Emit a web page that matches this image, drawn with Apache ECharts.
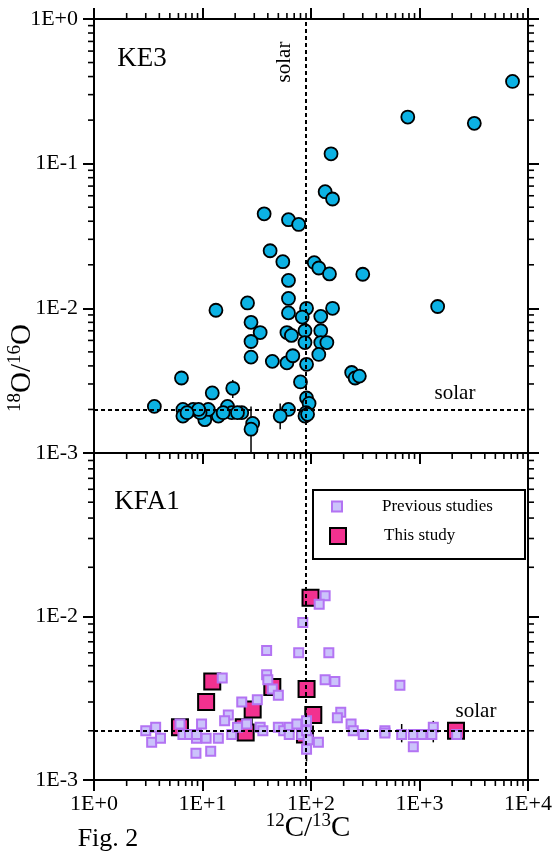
<!DOCTYPE html>
<html>
<head>
<meta charset="utf-8">
<script src="https://cdn.jsdelivr.net/npm/echarts@6/dist/echarts.min.js"></script>
<style>
  html, body { margin: 0; padding: 0; background: #fff; }
  #echart { width: 558px; height: 852px; }
</style>
</head>
<body>
<div id="echart"></div>
<script>
// ====================== data ======================
var solarC = 89;      // 12C/13C solar
var solarO = 0.002;   // 18O/16O solar

// KE3: [12C/13C, 18O/16O]
var ke3Points = [
    [7200, 0.37], [780, 0.21], [3200, 0.19], [153, 0.117], [135, 0.064], [158, 0.057],
    [37, 0.045], [62, 0.041], [77, 0.038], [42, 0.025], [55, 0.021], [107, 0.0207], [118, 0.019],
    [148, 0.0173], [300, 0.0172], [62, 0.0156], [62, 0.0117], [26, 0.0109], [13.3, 0.0097],
    [62, 0.0093], [91, 0.0100], [158, 0.0100], [1470, 0.0103], [83, 0.0087], [123, 0.0088],
    [28, 0.0080], [34, 0.0068], [60, 0.0068], [66, 0.0065], [88, 0.0070], [123, 0.0070],
    [28, 0.0059], [88, 0.0058], [123, 0.0058], [140, 0.0058], [118, 0.0048],
    [28, 0.0046], [44, 0.0043], [60, 0.0042], [68, 0.0047], [91, 0.0041],
    [80, 0.0031], [237, 0.0036], [255, 0.0033], [279, 0.0034],
    [91, 0.0024], [96, 0.0022], [90, 0.0019], [88, 0.0018], [93, 0.00185],
    [62, 0.0020], [52, 0.0018], [29, 0.0016], [28, 0.00146], [23, 0.0019],
    [19, 0.0028], [12.3, 0.0026], [17, 0.0021], [14, 0.0018], [18.6, 0.0019], [10.5, 0.0017],
    [11.3, 0.0020], [9.5, 0.0019], [3.6, 0.0021], [6.4, 0.0033], [6.6, 0.0020], [6.6, 0.0018],
    [8.2, 0.0020], [9.2, 0.0020], [7.2, 0.0019], [15.5, 0.0019], [21, 0.0019]
];
// [x, low, high]
var ke3ErrorBars = [[28, 0.0010, 0.0021], [52, 0.00146, 0.0022], [19, 0.0024, 0.0032]];

// KFA1
var kfaPrevious = [
    [3.0, 0.0020], [3.7, 0.0021], [3.4, 0.0017], [4.1, 0.0018], [6.2, 0.0022], [6.6, 0.0019],
    [7.6, 0.0019], [8.8, 0.0018], [8.7, 0.00146], [135, 0.0134], [119, 0.0119], [84, 0.0092],
    [39, 0.0062], [77, 0.0060], [146, 0.0060], [15.2, 0.0042], [39, 0.0044], [40, 0.0041],
    [44, 0.0036], [50, 0.0033], [135, 0.0041], [166, 0.0040], [23, 0.0030], [32, 0.0031],
    [17.3, 0.0025], [16, 0.0023], [188, 0.0026], [175, 0.0024], [9.8, 0.0022], [8.8, 0.0019],
    [10.8, 0.0018], [14, 0.0018], [18.6, 0.0019], [21, 0.0021], [25.5, 0.0022], [34, 0.0021],
    [36, 0.0020], [50, 0.0021], [56, 0.0020], [63, 0.0021], [63, 0.0019], [74, 0.0022],
    [82, 0.0019], [91, 0.0023], [91, 0.0020], [94, 0.00176], [91, 0.00154], [117, 0.0017],
    [234, 0.0022], [245, 0.0020], [303, 0.0019], [480, 0.0020], [11.9, 0.0015], [660, 0.0038],
    [480, 0.00194], [685, 0.0019], [877, 0.0019], [877, 0.0016], [1050, 0.0019], [1340, 0.0021],
    [1300, 0.0019], [2200, 0.0019]
];
var kfaThisStudy = [
    [99, 0.0130], [12.3, 0.0040], [10.8, 0.0030], [44, 0.0037], [29, 0.0027], [24, 0.0021],
    [25, 0.00195], [91, 0.0036], [105, 0.0025], [88, 0.0019], [6.2, 0.0021], [2170, 0.0020]
];
var kfaErrorBars = [[91, 0.0013, 0.0016], [685, 0.0017, 0.0022], [1340, 0.0017, 0.0023]];

// axis ranges
var xRange = [1, 10000];
var yRangeTop = [0.001, 1];
var yRangeBottom = [0.001, 0.1];

// ====================== style ======================
var serif = '"Liberation Serif", "Times New Roman", serif';
var gridTop = { left: 94, top: 19, width: 434, height: 434 };
var gridBottom = { left: 94, top: 453, width: 434, height: 327 };

function expLabel(v) {
    var e = Math.round(Math.log10(v));
    return '1E' + (e >= 0 ? '+' : '') + e;
}

var axisLine = { show: true, onZero: false, lineStyle: { color: '#000', width: 2 } };
var majorTick = { show: true, inside: false, length: 11, lineStyle: { color: '#000', width: 2 } };
var noLabel = { show: false };

function logAxis(extra) {
    var base = {
        type: 'log', logBase: 10,
        axisLine: axisLine, axisTick: majorTick, axisLabel: noLabel,
        splitLine: { show: false }, minorTick: { show: false }
    };
    for (var k in extra) base[k] = extra[k];
    return base;
}

function errorBar(params, api) {
    var lo = api.coord([api.value(0), api.value(1)]);
    var hi = api.coord([api.value(0), api.value(2)]);
    return {
        type: 'line',
        shape: { x1: lo[0], y1: lo[1], x2: hi[0], y2: hi[1] },
        style: { stroke: '#000', lineWidth: 1.5 }
    };
}

// dashed solar reference lines, one pair per panel
function solarLines(yRange) {
    return {
        silent: true,
        symbol: 'none',
        label: { show: false },
        lineStyle: { color: '#000', width: 2, type: [4, 3] },
        data: [
            [{ coord: [solarC, yRange[0]] }, { coord: [solarC, yRange[1]] }],
            [{ coord: [xRange[0], solarO] }, { coord: [xRange[1], solarO] }]
        ]
    };
}

var echart1 = echarts.init(document.getElementById('echart'), null, { renderer: 'canvas' });
var option = {
    animation: false,
    backgroundColor: '#fff',
    grid: [
        { left: gridTop.left, top: gridTop.top, width: gridTop.width, height: gridTop.height, containLabel: false, outerBoundsMode: 'none' },
        { left: gridBottom.left, top: gridBottom.top, width: gridBottom.width, height: gridBottom.height, containLabel: false, outerBoundsMode: 'none' }
    ],
    xAxis: [
        logAxis({ gridIndex: 0, position: 'bottom', min: xRange[0], max: xRange[1] }),
        logAxis({ gridIndex: 0, position: 'top', min: xRange[0], max: xRange[1] }),
        logAxis({
            gridIndex: 1, position: 'bottom', min: xRange[0], max: xRange[1],
            axisLabel: { show: true, margin: 13, formatter: expLabel, color: '#000', fontFamily: serif, fontSize: 22 }
        })
    ],
    yAxis: [
        logAxis({
            gridIndex: 0, position: 'left', min: yRangeTop[0], max: yRangeTop[1],
            axisLabel: { show: true, margin: 16, formatter: expLabel, color: '#000', fontFamily: serif, fontSize: 22 }
        }),
        logAxis({ gridIndex: 0, position: 'right', min: yRangeTop[0], max: yRangeTop[1] }),
        logAxis({
            gridIndex: 1, position: 'left', min: yRangeBottom[0], max: yRangeBottom[1],
            axisLabel: {
                show: true, margin: 16, color: '#000', fontFamily: serif, fontSize: 22,
                formatter: function (v) { return v > 0.05 ? '' : expLabel(v); }
            }
        }),
        logAxis({ gridIndex: 1, position: 'right', min: yRangeBottom[0], max: yRangeBottom[1] })
    ],
    legend: [
        {
            data: ['Previous studies'], orient: 'vertical', left: 331, top: 498, padding: 0,
            itemWidth: 10, itemHeight: 10, selectedMode: false,
            textStyle: { color: '#000', fontFamily: serif, fontSize: 17, padding: [0, 0, 0, 35] }
        },
        {
            data: ['This study'], orient: 'vertical', left: 329, top: 527, padding: 0,
            itemWidth: 16, itemHeight: 16, selectedMode: false,
            textStyle: { color: '#000', fontFamily: serif, fontSize: 17, padding: [4, 0, 0, 33] }
        }
    ],
    series: [
        {
            name: 'ke3 err', type: 'custom', xAxisIndex: 0, yAxisIndex: 0, z: 1,
            renderItem: errorBar, encode: { x: 0, y: [1, 2] }, data: ke3ErrorBars
        },
        {
            name: 'KE3', type: 'scatter', xAxisIndex: 0, yAxisIndex: 0, z: 2,
            symbol: 'circle', symbolSize: 13,
            itemStyle: { color: '#0cb2e4', borderColor: '#000', borderWidth: 1.8, opacity: 1 },
            data: ke3Points,
            markLine: solarLines(yRangeTop)
        },
        {
            name: 'kfa err', type: 'custom', xAxisIndex: 2, yAxisIndex: 2, z: 1,
            renderItem: errorBar, encode: { x: 0, y: [1, 2] }, data: kfaErrorBars
        },
        {
            name: 'This study', type: 'scatter', xAxisIndex: 2, yAxisIndex: 2, z: 2,
            symbol: 'rect', symbolSize: 16,
            itemStyle: { color: '#f2318f', borderColor: '#000', borderWidth: 2, opacity: 1 },
            data: kfaThisStudy
        },
        {
            name: 'Previous studies', type: 'scatter', xAxisIndex: 2, yAxisIndex: 2, z: 3,
            symbol: 'rect', symbolSize: 9,
            itemStyle: { color: '#cbc3fb', borderColor: '#b373f3', borderWidth: 2, opacity: 1 },
            data: kfaPrevious,
            markLine: solarLines(yRangeBottom)
        }
    ]
};
echart1.setOption(option);

// ====================== minor ticks + texts ======================
var minorValues = [];
[-3, -2, -1, 0, 1, 2, 3].forEach(function (e) {
    for (var m = 2; m < 10; m++) minorValues.push(m * Math.pow(10, e));
});

var graphics = [];
var minorLen = 6;
function tick(x1, y1, x2, y2) {
    graphics.push({
        type: 'line', silent: true, z: 10,
        shape: { x1: x1, y1: y1, x2: x2, y2: y2 },
        style: { stroke: '#000', lineWidth: 1.6 }
    });
}
// x axes: [axisIndex, y of line, direction]
[[0, gridTop.top + gridTop.height, 1], [1, gridTop.top, -1], [2, gridBottom.top + gridBottom.height, 1]].forEach(function (a) {
    minorValues.forEach(function (v) {
        if (v <= xRange[0] || v >= xRange[1]) return;
        var px = echart1.convertToPixel({ xAxisIndex: a[0] }, v);
        tick(px, a[1], px, a[1] + a[2] * minorLen);
    });
});
// y axes: [axisIndex, x of line, direction, range]
var rightX = gridTop.left + gridTop.width;
[[0, gridTop.left, -1, yRangeTop], [1, rightX, 1, yRangeTop],
 [2, gridBottom.left, -1, yRangeBottom], [3, rightX, 1, yRangeBottom]].forEach(function (a) {
    minorValues.forEach(function (v) {
        if (v <= a[3][0] || v >= a[3][1]) return;
        var py = echart1.convertToPixel({ yAxisIndex: a[0] }, v);
        tick(a[1], py, a[1] + a[2] * minorLen, py);
    });
});

function label(text, x, y, size, rot) {
    graphics.push({
        type: 'text', x: x, y: y, rotation: rot || 0, silent: true, z: 10,
        style: { text: text, fill: '#000', fontFamily: serif, fontSize: size, align: 'center', verticalAlign: 'middle' }
    });
}
label('KE3', 142, 59, 27);
label('KFA1', 147, 502, 27);
label('solar', 284, 62, 21, Math.PI / 2);
label('solar', 455, 393, 21);
label('solar', 476, 711, 21);
label('Fig. 2', 108, 839, 26);

var richTitle = {
    b: { fontFamily: serif, fontSize: 29, fill: '#000', lineHeight: 32 },
    s: { fontFamily: serif, fontSize: 19, fill: '#000', verticalAlign: 'top' }
};
graphics.push({
    type: 'text', x: 308, y: 828, silent: true,
    style: { text: '{s|12}{b|C/}{s|13}{b|C}', rich: richTitle, align: 'center', verticalAlign: 'middle' }
});
graphics.push({
    type: 'text', x: 22, y: 368, rotation: Math.PI / 2, silent: true,
    style: { text: '{s|18}{b|O/}{s|16}{b|O}', rich: richTitle, align: 'center', verticalAlign: 'middle' }
});
// legend frame
graphics.push({
    type: 'rect', silent: true, z: 0,
    shape: { x: 313, y: 490, width: 212, height: 69 },
    style: { fill: '#fff', stroke: '#000', lineWidth: 2 }
});

echart1.setOption({ graphic: graphics });
</script>
</body>
</html>
